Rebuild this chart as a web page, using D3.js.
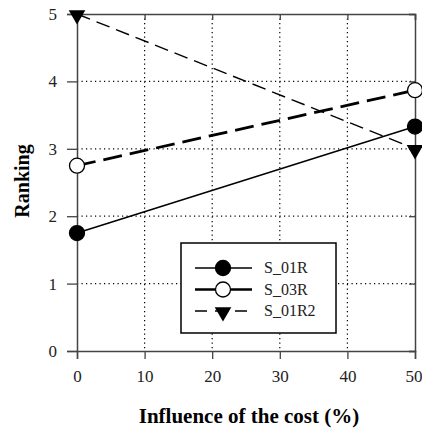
<!DOCTYPE html>
<html>
<head>
<meta charset="utf-8">
<script src="https://cdn.jsdelivr.net/npm/d3@7"></script>
<style>
  body { margin: 0; background: #fff; }
  svg text { font-family: "Liberation Serif", "Times New Roman", "DejaVu Serif", serif; }
</style>
</head>
<body>
<svg id="chart" width="422" height="430"></svg>
<script>
// Influence of the cost (%) on the ranking
const xValues = [0, 50];
const s01R = [1.75, 3.33];
const s03R = [2.75, 3.87];
const s01R2 = [5, 3];
const xTicks = [0, 10, 20, 30, 40, 50];
const yTicks = [0, 1, 2, 3, 4, 5];
const seriesNames = ['S_01R', 'S_03R', 'S_01R2'];

const serif = 'Liberation Serif, Times New Roman, serif';
const svg = d3.select('#chart');
const m = { left: 77, right: 415, top: 14, bottom: 351 };

const x = d3.scaleLinear().domain([0, 50]).range([m.left, m.right]);
const y = d3.scaleLinear().domain([0, 5]).range([m.bottom, m.top]);

const frame = '#444';

// grid (dotted)
svg.append('g').selectAll('line')
    .data(xTicks.slice(1, -1))
    .enter().append('line')
    .attr('x1', d => x(d)).attr('x2', d => x(d))
    .attr('y1', m.top).attr('y2', m.bottom)
    .attr('stroke', '#000').attr('stroke-width', 1.2)
    .attr('stroke-dasharray', '1.2,3.3');
svg.append('g').selectAll('line')
    .data(yTicks.slice(1, -1))
    .enter().append('line')
    .attr('x1', m.left).attr('x2', m.right)
    .attr('y1', d => y(d)).attr('y2', d => y(d))
    .attr('stroke', '#000').attr('stroke-width', 1.2)
    .attr('stroke-dasharray', '1.2,3.3');

// axes
const xAxisG = svg.append('g')
    .attr('transform', `translate(0,${m.bottom})`)
    .call(d3.axisBottom(x).tickValues(xTicks).tickFormat(d3.format('d')).tickSize(8).tickPadding(11));
svg.append('g')
    .attr('transform', `translate(${m.left},0)`)
    .call(d3.axisLeft(y).tickValues(yTicks).tickFormat(d3.format('d')).tickSize(10).tickPadding(10));
// top and right: inner ticks only
svg.append('g')
    .attr('transform', `translate(0,${m.top})`)
    .call(d3.axisBottom(x).tickValues(xTicks).tickSize(6).tickFormat(''));
svg.append('g')
    .attr('transform', `translate(${m.right},0)`)
    .call(d3.axisLeft(y).tickValues(yTicks).tickSize(6).tickFormat(''));

svg.selectAll('.domain').attr('stroke', frame).attr('stroke-width', 1.5);
svg.selectAll('.tick line').attr('stroke', frame).attr('stroke-width', 1.3);
svg.selectAll('g').attr('font-family', serif);
svg.selectAll('.tick text')
    .attr('font-size', 17).attr('fill', '#222');
// keep the last label inside the window edge
xAxisG.selectAll('.tick text')
    .filter(d => d === 50)
    .attr('text-anchor', 'end')
    .attr('x', 7);

// axis titles
svg.append('text')
    .attr('x', 249).attr('y', 423)
    .attr('text-anchor', 'middle')
    .attr('font-family', serif)
    .attr('font-size', 21).attr('font-weight', 'bold')
    .text('Influence of the cost (%)');
svg.append('text')
    .attr('transform', 'translate(29,181) rotate(-90)')
    .attr('text-anchor', 'middle')
    .attr('font-family', serif)
    .attr('font-size', 20).attr('font-weight', 'bold')
    .text('Ranking');

const line = d3.line().x(d => x(d[0])).y(d => y(d[1]));
const series = [
    { name: seriesNames[0], values: s01R, width: 1.5, dash: null, marker: 'filled' },
    { name: seriesNames[1], values: s03R, width: 2.8, dash: '19,8', marker: 'open' },
    { name: seriesNames[2], values: s01R2, width: 1.4, dash: '14,7', marker: 'triangle' }
];

const triangle = d3.symbol().type(d3.symbolTriangle).size(120);

function drawMarker(g, kind, cx, cy) {
    if (kind === 'triangle') {
        g.append('path')
            .attr('d', triangle())
            .attr('transform', `translate(${cx},${cy + 1}) rotate(180)`)
            .attr('fill', '#000');
    } else {
        g.append('circle')
            .attr('cx', cx).attr('cy', cy).attr('r', 7.5)
            .attr('fill', kind === 'filled' ? '#000' : '#fff')
            .attr('stroke', '#000').attr('stroke-width', 1.3);
    }
}

series.forEach(s => {
    const pts = xValues.map((v, i) => [v, s.values[i]]);
    svg.append('path')
        .datum(pts)
        .attr('d', line)
        .attr('fill', 'none')
        .attr('stroke', '#000')
        .attr('stroke-width', s.width)
        .attr('stroke-dasharray', s.dash);
});
series.forEach(s => {
    const g = svg.append('g');
    xValues.forEach((v, i) => drawMarker(g, s.marker, x(v), y(s.values[i])));
});

// legend
const lg = svg.append('g');
lg.append('rect')
    .attr('x', 181).attr('y', 243).attr('width', 155).attr('height', 90)
    .attr('fill', '#fff').attr('stroke', '#000').attr('stroke-width', 1.5);
series.forEach((s, i) => {
    const ly = 268 + i * 21.5;
    lg.append('line')
        .attr('x1', 195).attr('x2', 252).attr('y1', ly).attr('y2', ly)
        .attr('stroke', '#000')
        .attr('stroke-width', s.marker === 'open' ? 2.4 : 1.6)
        .attr('stroke-dasharray', s.marker === 'triangle' ? '12,8' : null);
    drawMarker(lg, s.marker, 223, ly);
    lg.append('text')
        .attr('x', 264).attr('y', ly + 5)
        .attr('font-family', serif)
        .attr('font-size', 16).attr('fill', '#222')
        .text(s.name);
});
</script>
</body>
</html>
